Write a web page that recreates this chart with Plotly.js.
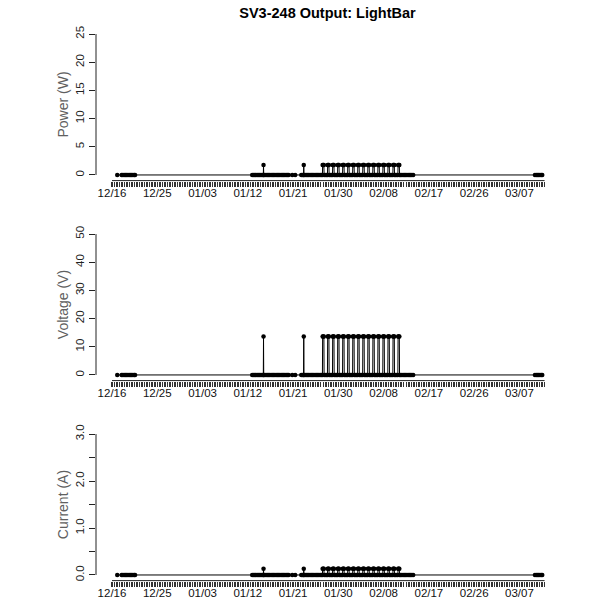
<!DOCTYPE html>
<html>
<head>
<meta charset="utf-8">
<script src="https://cdn.plot.ly/plotly-3.0.1.min.js"></script>
<style>html,body{margin:0;padding:0;background:#fff}#chart{width:600px;height:600px}</style>
</head>
<body>
<div id="chart"></div>
<script>
// ---------- data ----------
const chartTitle = 'SV3-248 Output: LightBar';

// logged sample times
const sampleTimes = [
  '2014-12-17 01:00','2014-12-17 22:00',
  '2014-12-18 04:00','2014-12-18 10:00','2014-12-18 16:00','2014-12-18 22:00',
  '2014-12-19 04:00','2014-12-19 10:00','2014-12-19 16:00','2014-12-19 22:00',
  '2014-12-20 04:00','2014-12-20 10:00','2014-12-20 14:00',
  '2015-01-12 21:00',
  '2015-01-13 03:00','2015-01-13 09:00','2015-01-13 15:00','2015-01-13 21:00',
  '2015-01-14 03:00','2015-01-14 09:00','2015-01-14 15:00','2015-01-14 21:00',
  '2015-01-15 02:00','2015-01-15 03:00','2015-01-15 04:00','2015-01-15 09:00','2015-01-15 15:00','2015-01-15 21:00',
  '2015-01-16 03:00','2015-01-16 09:00','2015-01-16 15:00','2015-01-16 21:00',
  '2015-01-17 03:00','2015-01-17 09:00','2015-01-17 15:00','2015-01-17 21:00',
  '2015-01-18 03:00','2015-01-18 09:00','2015-01-18 15:00','2015-01-18 21:00',
  '2015-01-19 03:00','2015-01-19 09:00','2015-01-19 15:00','2015-01-19 21:00',
  '2015-01-20 03:00','2015-01-20 20:00','2015-01-21 10:00',
  '2015-01-22 15:00','2015-01-22 21:00',
  '2015-01-23 02:00','2015-01-23 03:00','2015-01-23 04:00','2015-01-23 09:00','2015-01-23 15:00','2015-01-23 21:00',
  '2015-01-24 03:00','2015-01-24 09:00','2015-01-24 15:00','2015-01-24 21:00',
  '2015-01-25 03:00','2015-01-25 09:00','2015-01-25 15:00','2015-01-25 21:00',
  '2015-01-26 03:00','2015-01-26 09:00','2015-01-26 15:00','2015-01-26 20:00','2015-01-26 21:00',
  '2015-01-27 00:00','2015-01-27 03:00','2015-01-27 04:00','2015-01-27 09:00','2015-01-27 15:00','2015-01-27 20:00','2015-01-27 21:00',
  '2015-01-28 00:00','2015-01-28 03:00','2015-01-28 04:00','2015-01-28 09:00','2015-01-28 15:00','2015-01-28 20:00','2015-01-28 21:00',
  '2015-01-29 00:00','2015-01-29 03:00','2015-01-29 04:00','2015-01-29 09:00','2015-01-29 15:00','2015-01-29 20:00','2015-01-29 21:00',
  '2015-01-30 00:00','2015-01-30 03:00','2015-01-30 04:00','2015-01-30 09:00','2015-01-30 15:00','2015-01-30 20:00','2015-01-30 21:00',
  '2015-01-31 00:00','2015-01-31 03:00','2015-01-31 04:00','2015-01-31 09:00','2015-01-31 15:00','2015-01-31 20:00','2015-01-31 21:00',
  '2015-02-01 00:00','2015-02-01 03:00','2015-02-01 04:00','2015-02-01 09:00','2015-02-01 15:00','2015-02-01 20:00','2015-02-01 21:00',
  '2015-02-02 00:00','2015-02-02 03:00','2015-02-02 04:00','2015-02-02 09:00','2015-02-02 15:00','2015-02-02 20:00','2015-02-02 21:00',
  '2015-02-03 00:00','2015-02-03 03:00','2015-02-03 04:00','2015-02-03 09:00','2015-02-03 15:00','2015-02-03 20:00','2015-02-03 21:00',
  '2015-02-04 00:00','2015-02-04 03:00','2015-02-04 04:00','2015-02-04 09:00','2015-02-04 15:00','2015-02-04 20:00','2015-02-04 21:00',
  '2015-02-05 00:00','2015-02-05 03:00','2015-02-05 04:00','2015-02-05 09:00','2015-02-05 15:00','2015-02-05 20:00','2015-02-05 21:00',
  '2015-02-06 00:00','2015-02-06 03:00','2015-02-06 04:00','2015-02-06 09:00','2015-02-06 15:00','2015-02-06 20:00','2015-02-06 21:00',
  '2015-02-07 00:00','2015-02-07 03:00','2015-02-07 04:00','2015-02-07 09:00','2015-02-07 15:00','2015-02-07 20:00','2015-02-07 21:00',
  '2015-02-08 00:00','2015-02-08 03:00','2015-02-08 04:00','2015-02-08 09:00','2015-02-08 15:00','2015-02-08 20:00','2015-02-08 21:00',
  '2015-02-09 00:00','2015-02-09 03:00','2015-02-09 04:00','2015-02-09 09:00','2015-02-09 15:00','2015-02-09 20:00','2015-02-09 21:00',
  '2015-02-10 00:00','2015-02-10 03:00','2015-02-10 04:00','2015-02-10 09:00','2015-02-10 15:00','2015-02-10 20:00','2015-02-10 21:00',
  '2015-02-11 00:00','2015-02-11 03:00','2015-02-11 04:00','2015-02-11 09:00','2015-02-11 15:00','2015-02-11 21:00',
  '2015-02-12 03:00','2015-02-12 09:00','2015-02-12 15:00','2015-02-12 21:00',
  '2015-02-13 03:00','2015-02-13 09:00','2015-02-13 15:00','2015-02-13 21:00',
  '2015-03-10 02:00','2015-03-10 08:00','2015-03-10 14:00','2015-03-10 20:00',
  '2015-03-11 02:00','2015-03-11 08:00','2015-03-11 13:00'
];

// samples at which the light bar was on (all other samples read 0)
const onTimes = [
  '2015-01-15 03:00','2015-01-23 03:00',
  '2015-01-26 21:00','2015-01-27 00:00','2015-01-27 03:00',
  '2015-01-27 21:00','2015-01-28 00:00','2015-01-28 03:00',
  '2015-01-28 21:00','2015-01-29 00:00','2015-01-29 03:00',
  '2015-01-29 21:00','2015-01-30 00:00','2015-01-30 03:00',
  '2015-01-30 21:00','2015-01-31 00:00','2015-01-31 03:00',
  '2015-01-31 21:00','2015-02-01 00:00','2015-02-01 03:00',
  '2015-02-01 21:00','2015-02-02 00:00','2015-02-02 03:00',
  '2015-02-02 21:00','2015-02-03 00:00','2015-02-03 03:00',
  '2015-02-03 21:00','2015-02-04 00:00','2015-02-04 03:00',
  '2015-02-04 21:00','2015-02-05 00:00','2015-02-05 03:00',
  '2015-02-05 21:00','2015-02-06 00:00','2015-02-06 03:00',
  '2015-02-06 21:00','2015-02-07 00:00','2015-02-07 03:00',
  '2015-02-07 21:00','2015-02-08 00:00','2015-02-08 03:00',
  '2015-02-08 21:00','2015-02-09 00:00','2015-02-09 03:00',
  '2015-02-09 21:00','2015-02-10 00:00','2015-02-10 03:00',
  '2015-02-10 21:00','2015-02-11 00:00','2015-02-11 03:00'
];
const powerOn   = [1.77,1.77, 1.77,1.77,1.77, 1.77,1.77,1.77, 1.77,1.77,1.77, 1.77,1.77,1.77, 1.77,1.77,1.77, 1.77,1.77,1.77, 1.77,1.77,1.77, 1.77,1.77,1.77, 1.77,1.77,1.77, 1.77,1.77,1.77, 1.77,1.77,1.77, 1.77,1.77,1.77, 1.77,1.77,1.77, 1.77,1.77,1.77, 1.77,1.77,1.77, 1.77,1.77,1.77];
const voltageOn = [13.6,13.6, 13.6,13.6,13.6, 13.6,13.6,13.6, 13.6,13.6,13.6, 13.6,13.6,13.6, 13.6,13.6,13.6, 13.6,13.6,13.6, 13.6,13.6,13.6, 13.6,13.6,13.6, 13.6,13.6,13.6, 13.6,13.6,13.6, 13.6,13.6,13.6, 13.6,13.6,13.6, 13.6,13.6,13.6, 13.6,13.6,13.6, 13.6,13.6,13.6, 13.6,13.6,13.6];
const currentOn = [0.13,0.13, 0.13,0.13,0.13, 0.13,0.13,0.13, 0.13,0.13,0.13, 0.13,0.13,0.13, 0.13,0.13,0.13, 0.13,0.13,0.13, 0.13,0.13,0.13, 0.13,0.13,0.13, 0.13,0.13,0.13, 0.13,0.13,0.13, 0.13,0.13,0.13, 0.13,0.13,0.13, 0.13,0.13,0.13, 0.13,0.13,0.13, 0.13,0.13,0.13, 0.13,0.13,0.13];
const offValue = 0;

// axis labels
const dateTickVals   = ['2014-12-16','2014-12-25','2015-01-03','2015-01-12','2015-01-21','2015-01-30','2015-02-08','2015-02-17','2015-02-26','2015-03-07'];
const dateTickLabels = ['12/16','12/25','01/03','01/12','01/21','01/30','02/08','02/17','02/26','03/07'];
const tickBandStart = '2014-12-16';
const tickBandEnd   = '2015-03-12';
const powerTicks   = [0,5,10,15,20,25];
const voltageTicks = [0,10,20,30,40,50];
const currentTicks = [0,0.5,1.0,1.5,2.0,2.5,3.0];
const currentTickLabels = ['0.0','','1.0','','2.0','','3.0'];
const yTitles = ['Power (W)','Voltage (V)','Current (A)'];

// ---------- build ----------
function series(onVals){
  const idx = {};
  onTimes.forEach((t,i)=>{ idx[t] = onVals[i]; });
  return sampleTimes.map(t => (t in idx) ? idx[t] : offValue);
}
const toMs = s => { const [d,h] = s.split(' '); const [Y,M,D] = d.split('-').map(Number);
  let hh=0, mm=0; if(h){ [hh,mm]=h.split(':').map(Number);} return Date.UTC(Y,M-1,D,hh,mm); };

// dense tick band: every 12 hours
const bandVals = [], bandText = [];
const labMs = dateTickVals.map(toMs);
for(let t = toMs(tickBandStart); t <= toMs(tickBandEnd); t += 12*3600*1000){
  bandVals.push(t);
  const k = labMs.indexOf(t);
  bandText.push(k >= 0 ? dateTickLabels[k] : '');
}

const FONT = '"Liberation Sans", Arial, Helvetica, sans-serif';
const trace = (y, xa, ya) => ({
  x: sampleTimes, y: y, xaxis: xa, yaxis: ya, type: 'scatter', mode: 'lines+markers',
  line: {color: '#000', width: 1}, marker: {color: '#000', size: 4.5},
  hoverinfo: 'x+y', showlegend: false, cliponaxis: false
});
const data = [
  trace(series(powerOn), 'x', 'y'),
  trace(series(voltageOn), 'x2', 'y2'),
  trace(series(currentOn), 'x3', 'y3')
];

const xRange = ['2014-12-12 19:40', '2015-03-14 20:50'];
const xAxis = (anchor) => ({
  type: 'date', range: xRange, anchor: anchor, showgrid: false, zeroline: false, showline: false,
  tickmode: 'array', tickvals: bandVals, ticktext: bandText, ticks: 'outside', ticklen: 5,
  tickwidth: 1.5, tickcolor: '#333', tickfont: {family: FONT, size: 11.5, color: '#111'},
  ticklabelstandoff: -3, automargin: false, tickangle: 0
});
const yAxis = (anchor, domain, range, tv, tt, title) => ({
  domain: domain, range: range, anchor: anchor, showgrid: false, zeroline: false, showline: false,
  tickmode: 'array', tickvals: tv, ticktext: tt, ticks: 'outside', ticklen: 6, tickwidth: 1,
  tickcolor: '#222', tickangle: -90, tickfont: {family: FONT, size: 11.5, color: '#222'},
  title: {text: title, font: {family: FONT, size: 14, color: '#606060'}, standoff: 2},
  automargin: false
});

const layout = {
  width: 600, height: 600, margin: {l: 96, r: 41, t: 0, b: 0},
  paper_bgcolor: '#fff', plot_bgcolor: '#fff',
  title: {text: '<b>' + chartTitle + '</b>', font: {family: FONT, size: 14.5, color: '#000'},
    x: 0.5, xref: 'paper', xanchor: 'center', y: 1 - 13/600, yref: 'container', yanchor: 'middle'},
  xaxis: xAxis('y'), xaxis2: xAxis('y2'), xaxis3: xAxis('y3'),
  yaxis:  yAxis('x',  [0.6990, 0.9527], [-1, 26], powerTicks, powerTicks.map(String), yTitles[0]),
  yaxis2: yAxis('x2', [0.3657, 0.6193], [-2, 52], voltageTicks, voltageTicks.map(String), yTitles[1]),
  yaxis3: yAxis('x3', [0.0323, 0.2860], [-0.12, 3.12], currentTicks, currentTickLabels, yTitles[2]),
  shapes: []
};
const yTop = [powerTicks[powerTicks.length-1], voltageTicks[voltageTicks.length-1], currentTicks[currentTicks.length-1]];
['', '2', '3'].forEach((s, i) => {
  layout.shapes.push({type: 'line', xref: 'x' + s, yref: 'y' + s + ' domain', x0: tickBandStart, x1: tickBandEnd,
    y0: 0, y1: 0, line: {color: '#222', width: 1}});
  layout.shapes.push({type: 'line', xref: 'x' + s + ' domain', yref: 'y' + s, x0: 0, x1: 0,
    y0: 0, y1: yTop[i], line: {color: '#222', width: 1}});
});

Plotly.newPlot('chart', data, layout, {staticPlot: true, displayModeBar: false});
</script>
</body>
</html>
